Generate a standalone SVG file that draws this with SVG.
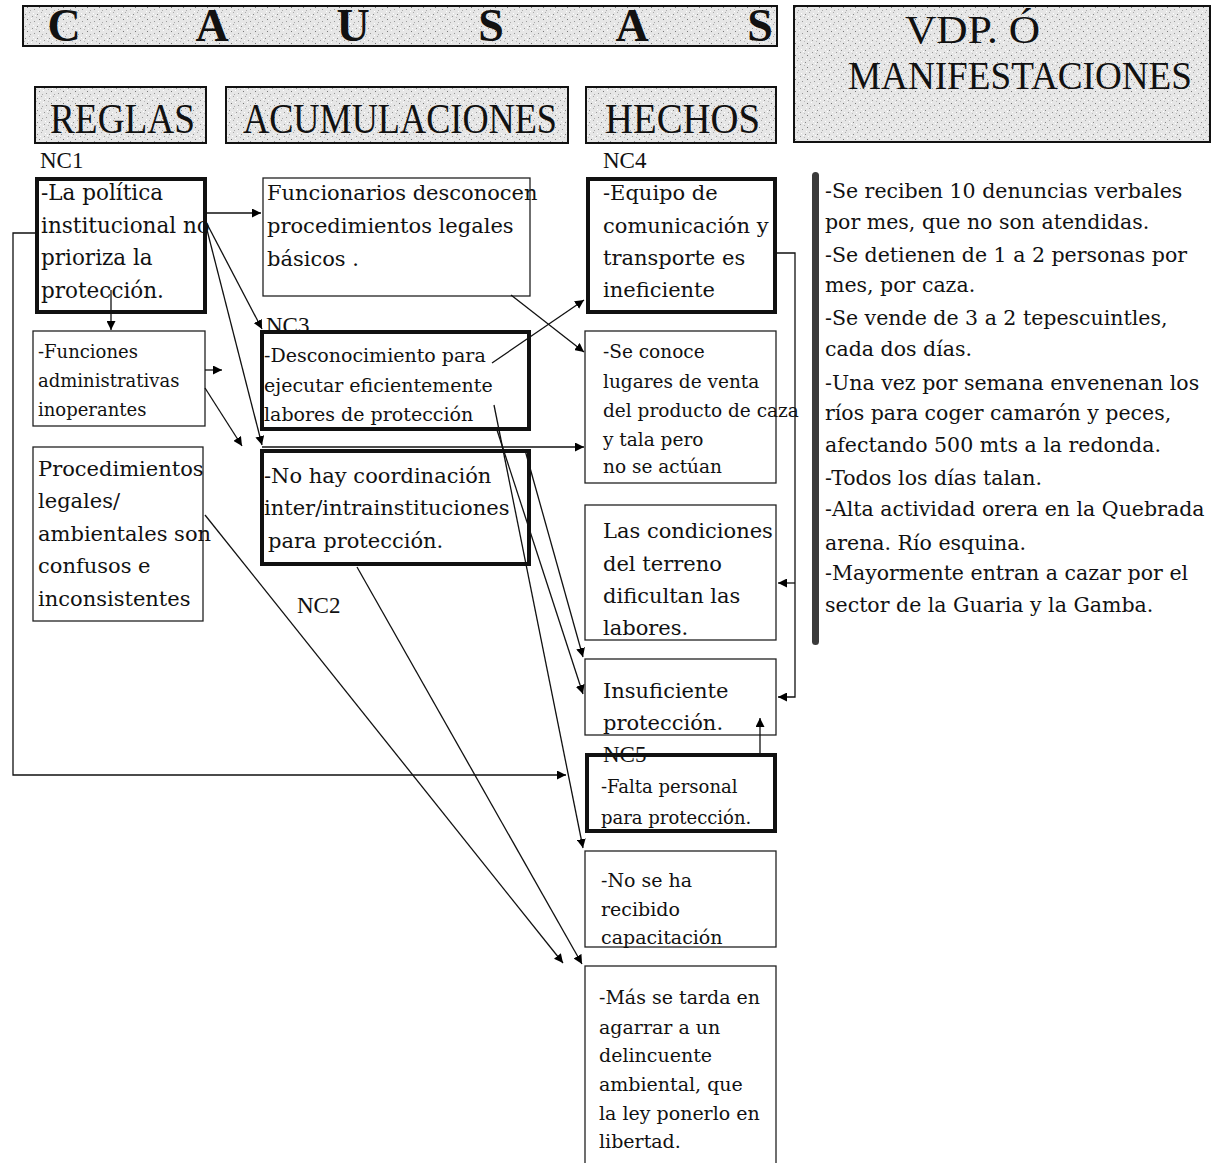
<svg xmlns="http://www.w3.org/2000/svg" width="1216" height="1163" viewBox="0 0 1216 1163">
<defs>
<pattern id="speckle" width="12" height="12" patternUnits="userSpaceOnUse">
<rect width="12" height="12" fill="#e6e6e6"/>
<rect x="1" y="2" width="1" height="1" fill="#888"/>
<rect x="5" y="0" width="1" height="1" fill="#aaa"/>
<rect x="8" y="4" width="1" height="1" fill="#999"/>
<rect x="3" y="7" width="1" height="1" fill="#777"/>
<rect x="10" y="9" width="1" height="1" fill="#999"/>
<rect x="6" y="10" width="1" height="1" fill="#aaa"/>
<rect x="0" y="5" width="1" height="1" fill="#bbb"/>
<rect x="9" y="1" width="1" height="1" fill="#fff"/>
<rect x="2" y="11" width="1" height="1" fill="#fff"/>
<rect x="7" y="6" width="1" height="1" fill="#fff"/>
<rect x="11" y="3" width="1" height="1" fill="#fff"/>
<rect x="4" y="4" width="1" height="1" fill="#fff"/>
</pattern>
<marker id="arr" viewBox="0 0 10 10" refX="10" refY="5" markerWidth="9" markerHeight="9" markerUnits="userSpaceOnUse" orient="auto">
<path d="M0,0 L10,5 L0,10 z" fill="#000"/>
</marker>
</defs>
<style>
.hdr{fill:url(#speckle);stroke:#111;stroke-width:2}
.big{font-family:"Liberation Serif",serif;font-weight:bold;font-size:46px;fill:#111}
.hd{font-family:"Liberation Serif",serif;font-size:42px;fill:#111}
.vd{font-family:"Liberation Serif",serif;font-size:40px;fill:#111}
.lbl{font-family:"Liberation Serif",serif;font-size:23px;fill:#111}
.thin{fill:#fff;stroke:#222;stroke-width:1.3}
.thick{fill:#fff;stroke:#111;stroke-width:4}
.t21{font-family:"DejaVu Serif",serif;font-size:21px;fill:#111}
.t19{font-family:"DejaVu Serif",serif;font-size:19px;fill:#111}
.t18{font-family:"DejaVu Serif",serif;font-size:18px;fill:#111}
.t20{font-family:"DejaVu Serif",serif;font-size:20.5px;fill:#111}
.c{fill:none;stroke:#111;stroke-width:1.3}
</style>

<g id="causas">
<rect class="hdr" x="23" y="6" width="754" height="40"/>
<g class="big" text-anchor="middle">
<text x="64" y="41">C</text><text x="212" y="41">A</text><text x="353" y="41">U</text><text x="491" y="41">S</text><text x="632" y="41">A</text><text x="760" y="41">S</text>
</g>
</g>

<g id="vdp">
<rect class="hdr" x="794" y="6" width="416" height="136"/>
<text class="vd" x="905" y="43" textLength="135" lengthAdjust="spacingAndGlyphs">VDP. Ó</text>
<text class="vd" x="848" y="89" textLength="344" lengthAdjust="spacingAndGlyphs">MANIFESTACIONES</text>
</g>

<g id="reglas">
<rect class="hdr" x="35" y="87" width="171" height="56"/>
<text class="hd" x="50" y="133" textLength="145" lengthAdjust="spacingAndGlyphs">REGLAS</text>
</g>
<g id="acumulaciones">
<rect class="hdr" x="226" y="87" width="342" height="56"/>
<text class="hd" x="243" y="133" textLength="314" lengthAdjust="spacingAndGlyphs">ACUMULACIONES</text>
</g>
<g id="hechos">
<rect class="hdr" x="586" y="87" width="190" height="56"/>
<text class="hd" x="605" y="133" textLength="155" lengthAdjust="spacingAndGlyphs">HECHOS</text>
</g>

<g id="labels">
<text class="lbl" x="40" y="168">NC1</text>
<text class="lbl" x="603" y="168">NC4</text>
<text class="lbl" x="297" y="613">NC2</text>
</g>

<g id="nc1">
<rect class="thick" x="37" y="179" width="168" height="133"/>
<g class="t21" style="font-size:21.5px">
<text x="41" y="200">-La política</text>
<text x="41" y="233">institucional no</text>
<text x="41" y="265">prioriza la</text>
<text x="41" y="298">protección.</text>
</g>
</g>

<g id="funcionarios">
<rect class="thin" x="263" y="178" width="267" height="118"/>
<g class="t21">
<text x="267" y="200">Funcionarios desconocen</text>
<text x="267" y="233">procedimientos legales</text>
<text x="267" y="266">básicos .</text>
</g>
</g>

<g id="nc4">
<rect class="thick" x="588" y="179" width="187" height="133"/>
<g class="t21">
<text x="603" y="200">-Equipo de</text>
<text x="603" y="233">comunicación y</text>
<text x="603" y="265">transporte  es</text>
<text x="603" y="297">ineficiente</text>
</g>
</g>

<g id="funciones">
<rect class="thin" x="33" y="331" width="172" height="95"/>
<g class="t18">
<text x="38" y="358">-Funciones</text>
<text x="38" y="387">administrativas</text>
<text x="38" y="416">inoperantes</text>
</g>
</g>

<g id="nc3">
<rect class="thick" x="262" y="332" width="267" height="97"/>
<text class="lbl" x="266" y="333">NC3</text>
<g class="t19">
<text x="264" y="362">-Desconocimiento para</text>
<text x="264" y="392">ejecutar eficientemente</text>
<text x="264" y="421">labores de protección</text>
</g>
</g>

<g id="seconoce">
<rect class="thin" x="585" y="331" width="191" height="152"/>
<g class="t18" style="font-size:18.5px">
<text x="603" y="358">-Se conoce</text>
<text x="603" y="388">lugares de venta</text>
<text x="603" y="417">del producto de caza</text>
<text x="603" y="446">y tala pero</text>
<text x="603" y="473">no se actúan</text>
</g>
</g>

<g id="procedimientos">
<rect class="thin" x="33" y="447" width="170" height="174"/>
<g class="t21">
<text x="38" y="476">Procedimientos</text>
<text x="38" y="508">legales/</text>
<text x="38" y="541">ambientales son</text>
<text x="38" y="573">confusos e</text>
<text x="38" y="606">inconsistentes</text>
</g>
</g>

<g id="coordinacion">
<rect class="thick" x="262" y="451" width="267" height="113"/>
<g class="t21">
<text x="264" y="483">-No hay coordinación</text>
<text x="264" y="515">inter/intrainstituciones</text>
<text x="268" y="548">para protección.</text>
</g>
</g>

<g id="condiciones">
<rect class="thin" x="585" y="505" width="191" height="135"/>
<g class="t21">
<text x="603" y="538">Las condiciones</text>
<text x="603" y="571">del terreno</text>
<text x="603" y="603">dificultan las</text>
<text x="603" y="635">labores.</text>
</g>
</g>

<g id="insuficiente">
<rect class="thin" x="585" y="659" width="191" height="76"/>
<g class="t21">
<text x="603" y="698">Insuficiente</text>
<text x="603" y="730">protección.</text>
</g>
</g>

<g id="nc5">
<rect class="thick" x="587" y="755" width="188" height="76"/>
<text class="lbl" x="603" y="762">NC5</text>
<g class="t18">
<text x="601" y="793">-Falta personal</text>
<text x="601" y="824">para protección.</text>
</g>
</g>

<g id="capacitacion">
<rect class="thin" x="585" y="851" width="191" height="96"/>
<g class="t19">
<text x="601" y="887">-No se ha</text>
<text x="601" y="916">recibido</text>
<text x="601" y="944">capacitación</text>
</g>
</g>

<g id="mas">
<rect class="thin" x="585" y="966" width="191" height="210"/>
<g class="t19">
<text x="599" y="1004">-Más se tarda en</text>
<text x="599" y="1034">agarrar a un</text>
<text x="599" y="1062">delincuente</text>
<text x="599" y="1091">ambiental, que</text>
<text x="599" y="1120">la ley ponerlo en</text>
<text x="599" y="1148">libertad.</text>
</g>
</g>

<g id="manifestaciones">
<rect x="812" y="172" width="7" height="473" rx="3.5" fill="#3a3a3a"/>
<g class="t20">
<text x="825" y="198">-Se reciben 10 denuncias verbales</text>
<text x="825" y="229">por mes, que no son atendidas.</text>
<text x="825" y="262">-Se detienen de 1 a 2 personas por</text>
<text x="825" y="292">mes, por caza.</text>
<text x="825" y="325">-Se vende de 3 a 2 tepescuintles,</text>
<text x="825" y="356">cada dos días.</text>
<text x="825" y="390">-Una vez por semana envenenan los</text>
<text x="825" y="420">ríos para coger camarón y peces,</text>
<text x="825" y="452">afectando 500 mts a la redonda.</text>
<text x="825" y="485">-Todos los días talan.</text>
<text x="825" y="516">-Alta actividad orera en la Quebrada</text>
<text x="825" y="550">arena. Río esquina.</text>
<text x="825" y="580">-Mayormente entran a cazar por el</text>
<text x="825" y="612">sector de la Guaria y la Gamba.</text>
</g>
</g>

<g id="connectors">
<line class="c" x1="206" y1="213" x2="261" y2="213" marker-end="url(#arr)"/>
<line class="c" x1="206" y1="222" x2="262" y2="329" marker-end="url(#arr)"/>
<line class="c" x1="206" y1="226" x2="262" y2="445" marker-end="url(#arr)"/>
<line class="c" x1="111" y1="290" x2="111" y2="330" marker-end="url(#arr)"/>
<line class="c" x1="205" y1="370" x2="222" y2="370" marker-end="url(#arr)"/>
<line class="c" x1="205" y1="388" x2="242" y2="446" marker-end="url(#arr)"/>
<polyline class="c" points="35,233 13,233 13,775 566,775" marker-end="url(#arr)"/>
<line class="c" x1="511" y1="295" x2="584" y2="352" marker-end="url(#arr)"/>
<line class="c" x1="492" y1="363" x2="584" y2="300" marker-end="url(#arr)"/>
<line class="c" x1="262" y1="447" x2="584" y2="447" marker-end="url(#arr)"/>
<line class="c" x1="494" y1="405" x2="583" y2="848" marker-end="url(#arr)"/>
<line class="c" x1="497" y1="430" x2="583" y2="694" marker-end="url(#arr)"/>
<line class="c" x1="525" y1="450" x2="583" y2="657" marker-end="url(#arr)"/>
<line class="c" x1="357" y1="567" x2="582" y2="964" marker-end="url(#arr)"/>
<line class="c" x1="205" y1="515" x2="563" y2="963" marker-end="url(#arr)"/>
<polyline class="c" points="776,253 795,253 795,697 778,697" marker-end="url(#arr)"/>
<line class="c" x1="795" y1="583" x2="778" y2="583" marker-end="url(#arr)"/>
<line class="c" x1="760" y1="753" x2="760" y2="718" marker-end="url(#arr)"/>
</g>
</svg>
